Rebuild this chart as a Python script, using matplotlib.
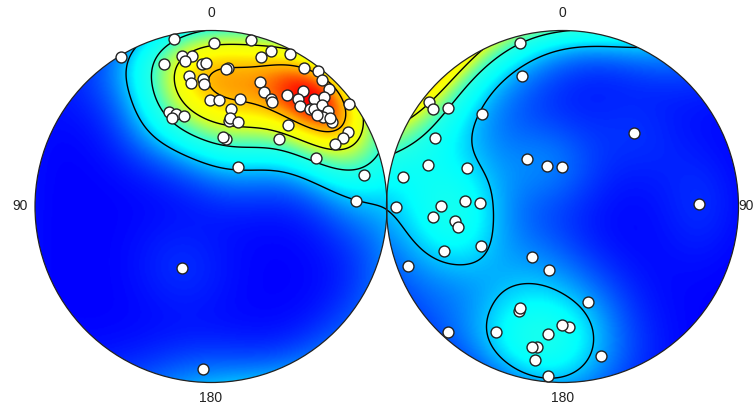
import numpy as np
import matplotlib
matplotlib.use('Agg')
import matplotlib.pyplot as plt
from matplotlib.colors import LinearSegmentedColormap
from matplotlib.patches import Circle

plt.rcParams['font.family'] = ['Liberation Sans', 'DejaVu Sans']

# points (pixels)
left_x = [174, 120.7, 214.3, 250.7, 261, 271.3, 290.3, 181.7, 192.3, 184.7, 202, 205.7, 163.7, 228.3, 226.3,
          304, 318, 322, 189.3, 190.7, 202.7, 204.3, 260, 263.7, 270.7, 271.7, 329, 287, 302.7, 298.3, 314,
          324.3, 299.7, 210, 218.7, 240, 349.3, 309.7, 314, 321.7, 327.7, 231.3, 169, 176, 183.7, 171.7,
          323.3, 316.7, 332, 330, 229, 230, 238, 288, 347.7, 342.7, 335.3, 226, 223, 278.7, 316, 238,
          363.7, 355.7, 182, 203]
left_y = [38.7, 57.3, 43, 40.3, 56.7, 51.3, 54.3, 56, 56.3, 61, 64, 62.7, 63.7, 68, 69,
          67.7, 71, 80, 75.7, 82.7, 78.7, 84.3, 82, 92, 99, 102.3, 89, 95, 91.3, 98.7, 98.7,
          97.3, 106, 100.3, 99.7, 99.3, 104.3, 108.7, 109, 104.7, 110.7, 109, 112, 114, 116, 117.7,
          116.7, 115, 121.7, 117.7, 121.3, 117.7, 121.7, 125.3, 132.3, 137.7, 144, 139.3, 137, 139.3, 157.7, 167.3,
          175.3, 201.3, 268, 369]
right_x = [520.3, 521.7, 429.3, 433.3, 448, 481.7, 435.3, 527, 547.3, 562, 428, 466.7, 403.3, 396, 441.3,
           465.3, 480.3, 432.7, 454.7, 457.7, 444.3, 481, 408.3, 532, 549.3, 588, 519, 520.3, 495.7, 548.3,
           568.7, 561.7, 447.7, 537, 532, 534.7, 600.7, 548.3, 634, 699]
right_y = [43.3, 75.7, 102.3, 109, 108, 113.7, 138.3, 159, 166.3, 167, 165.3, 167.7, 176.7, 206.7, 206,
           201, 202.7, 217.3, 220.7, 227.3, 251.3, 246.3, 266.3, 257.3, 269.7, 302, 310.7, 307.7, 332.3, 334.3,
           327.3, 325.3, 332, 347, 347, 360, 355.7, 376, 133, 204]

left_c = (211, 206.5)
right_c = (562.5, 206.5)
radius = 176
kappa = 13
# contour heights as fractions of the density range
levels_frac = [0.21, 0.4, 0.6, 0.8]


def to_sphere(u, v, side):
    # equal area projection, right net is the other side of the sphere
    r2 = u**2 + v**2
    k = np.sqrt(np.clip(2 - r2, 0, None))
    z = 1 - r2
    return np.stack([side * u * k, v * k, side * z], axis=-1)


def project(xs, ys, c, side):
    u = (np.array(xs) - c[0]) / radius
    v = (c[1] - np.array(ys)) / radius
    return to_sphere(u, v, side)


pts = np.vstack([project(left_x, left_y, left_c, 1), project(right_x, right_y, right_c, -1)])


def density(u, v, side):
    n = to_sphere(u, v, side)
    return np.exp(kappa * (n @ pts.T - 1)).sum(axis=-1)


g = np.linspace(-1, 1, 301)
U, V = np.meshgrid(g, g)
left_d = density(U, V, 1)
right_d = density(U, V, -1)
dmin = min(left_d.min(), right_d.min())
dmax = max(left_d.max(), right_d.max())
levels = [dmin + f * (dmax - dmin) for f in levels_frac]

cmap = LinearSegmentedColormap.from_list('dens', [(0, '#0000ff'), (0.27, '#00ffff'), (0.38, '#20ffe8'), (0.62, '#f0ff10'),
                                                  (0.7, '#ffff00'), (0.85, '#ff9c00'), (1, '#ff0000')])

fig = plt.figure(figsize=(7.55, 4.09), dpi=100)
ax = fig.add_axes([0, 0, 1, 1])
ax.set_xlim(0, 755)
ax.set_ylim(409, 0)
ax.axis('off')

for c, d, xs, ys in [(left_c, left_d, left_x, left_y), (right_c, right_d, right_x, right_y)]:
    ext = [c[0] - radius, c[0] + radius, c[1] + radius, c[1] - radius]
    clip = Circle(c, radius, transform=ax.transData)
    im = ax.imshow(d, extent=ext, origin='lower', cmap=cmap, vmin=dmin, vmax=dmax,
                   interpolation='bilinear', aspect='auto', zorder=1)
    im.set_clip_path(clip)
    cs = ax.contour(U * radius + c[0], c[1] - V * radius, d, levels=levels, colors='black',
                    linewidths=1.0, zorder=2)
    cs.set_clip_path(clip)
    ax.add_patch(Circle(c, radius, fill=False, ec='#222222', lw=0.9, zorder=3))
    ax.scatter(xs, ys, s=62, c='white', edgecolors='#222222', linewidths=1.0, zorder=4)
    ax.text(c[0], 13, '0', ha='center', va='center', fontsize=10, color='#222222')
    ax.text(c[0], 398, '180', ha='center', va='center', fontsize=10, color='#222222')

ax.set_xlim(0, 755)
ax.set_ylim(409, 0)
ax.text(20, 206, '90', ha='center', va='center', fontsize=10, color='#222222')
ax.text(754, 206, '90', ha='right', va='center', fontsize=10, color='#222222')

fig.savefig('out.png', dpi=100)
